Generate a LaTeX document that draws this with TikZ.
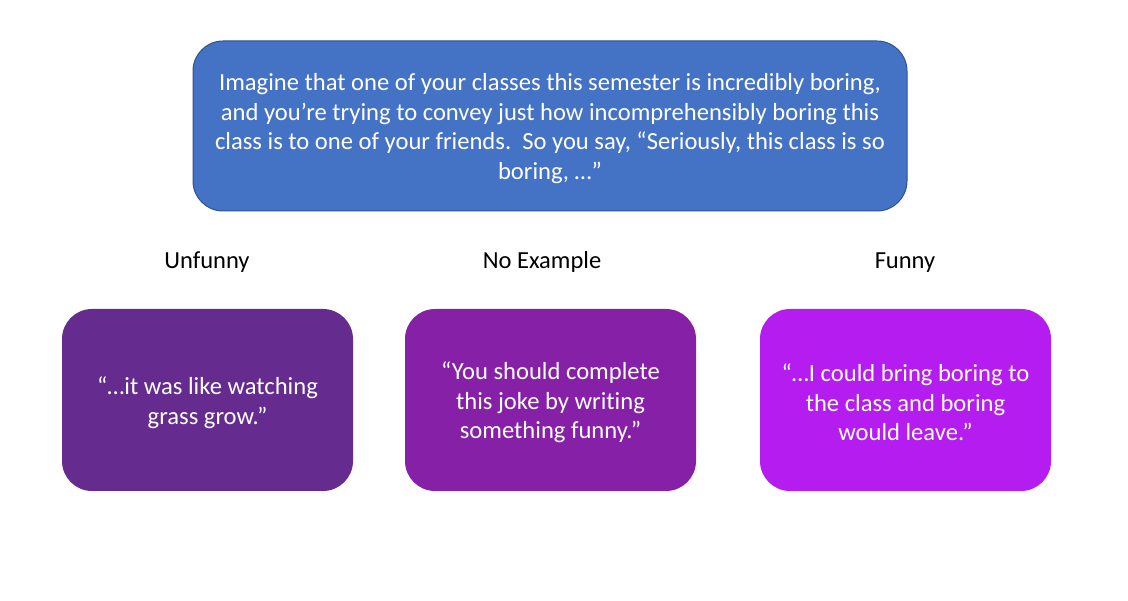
\documentclass[tikz,border=0pt]{standalone}
\usepackage{fontspec}
\setmainfont[Ligatures={NoCommon}]{Carlito}
\begin{document}
\begin{tikzpicture}[x=1pt,y=-1pt,
  topbox/.style={draw=topborder, line width=1pt, fill=topfill, rounded corners=30pt,
    minimum width=714pt, minimum height=170pt},
  jokebox/.style={rounded corners=30pt, minimum width=291pt, minimum height=182pt},
  boxtext/.style={text=white, align=center, font=\fontsize{24.6}{29.5}\selectfont, yshift=-2.5pt},
  lbl/.style={font=\fontsize{24.5}{29}\selectfont, text=black, anchor=base}]
\definecolor{topfill}{HTML}{4472C4}
\definecolor{topborder}{HTML}{2F528F}
\definecolor{cA}{HTML}{652B8F}
\definecolor{cB}{HTML}{8621A7}
\definecolor{cC}{HTML}{B51CF0}
\useasboundingbox (0,0) rectangle (1128,601);
\node[topbox] (top) at (550,126) {};
\node[boxtext] (toptext) at (top.center) {Imagine that one of your classes this semester is incredibly boring,\\
and you’re trying to convey just how incomprehensibly boring this\\
class is to one of your friends.\ \ So you say, “Seriously, this class is so\\
boring, …”};
\node[lbl] (l1) at (207,268.5) {Unfunny};
\node[lbl] (l2) at (542,268.5) {No Example};
\node[lbl] (l3) at (905,268.5) {Funny};
\node[jokebox, fill=cA] (b1) at (207.5,400) {};
\node[jokebox, fill=cB] (b2) at (550.5,400) {};
\node[jokebox, fill=cC] (b3) at (905.5,400) {};
\node[boxtext] (t1) at (b1.center) {“…it was like watching\\grass grow.”};
\node[boxtext] (t2) at (b2.center) {“You should complete\\this joke by writing\\something funny.”};
\node[boxtext] (t3) at (b3.center) {“…I could bring boring to\\the class and boring\\would leave.”};
\end{tikzpicture}
\end{document}
